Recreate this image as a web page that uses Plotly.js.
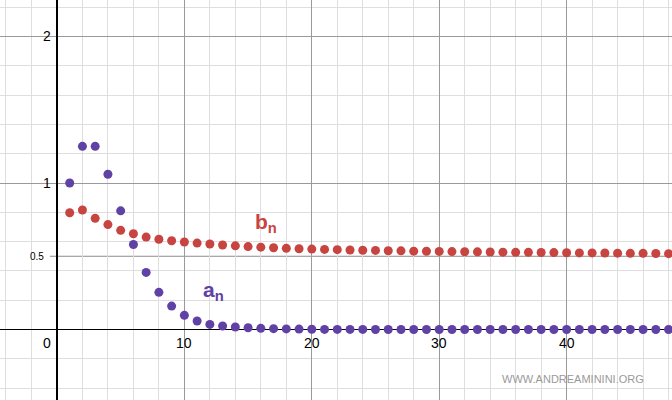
<!DOCTYPE html>
<html>
<head>
<meta charset="utf-8">
<script src="https://cdn.plot.ly/plotly-3.0.1.min.js"></script>
<style>
  html, body { margin: 0; padding: 0; background: #fff; }
  #chart { width: 672px; height: 400px; }
</style>
</head>
<body>
<div id="chart"></div>
<script>
// sequence indices
const n = Array.from({ length: 48 }, (_, i) => i + 1);

// a_n
const aValues = [
  1.00, 1.25, 1.25, 1.06, 0.81, 0.58, 0.39, 0.254, 0.16, 0.097,
  0.058, 0.035, 0.024, 0.017, 0.012, 0.008, 0.006, 0.004, 0.003, 0.002,
  0.001, 0.001, 0.001, 0.001, 0, 0, 0, 0, 0, 0,
  0, 0, 0, 0, 0, 0, 0, 0, 0, 0,
  0, 0, 0, 0, 0, 0, 0, 0
];

// b_n
const bValues = [
  0.797, 0.816, 0.759, 0.716, 0.677, 0.654, 0.631, 0.616, 0.606, 0.597,
  0.590, 0.584, 0.577, 0.571, 0.566, 0.562, 0.558, 0.554, 0.551, 0.549,
  0.547, 0.545, 0.543, 0.541, 0.540, 0.538, 0.537, 0.535, 0.534, 0.533,
  0.532, 0.531, 0.530, 0.529, 0.528, 0.527, 0.527, 0.526, 0.525, 0.524,
  0.523, 0.523, 0.522, 0.521, 0.520, 0.520, 0.519, 0.518
];

const bLimit = 0.5;
const xTicks = [10, 20, 30, 40];
const yTicks = [1, 2];

const purple = '#6042a6';
const red = '#c74440';
const font = 'Liberation Sans, Arial, sans-serif';

var data = [
  { x: n, y: bValues, mode: 'markers', type: 'scatter',
    marker: { color: red, size: 9 }, cliponaxis: false },
  { x: n, y: aValues, mode: 'markers', type: 'scatter',
    marker: { color: purple, size: 9 }, cliponaxis: false },
];

var annotations = [];
xTicks.forEach(t => annotations.push({
  x: t, y: 0, xref: 'x', yref: 'y', text: String(t), showarrow: false,
  xanchor: 'center', yanchor: 'top', yshift: -3,
  font: { family: font, size: 14, color: '#000' }
}));
yTicks.forEach(t => annotations.push({
  x: 0, y: t, xref: 'x', yref: 'y', text: String(t), showarrow: false,
  xanchor: 'right', yanchor: 'middle', xshift: -4,
  font: { family: font, size: 14, color: '#000' }
}));
// origin
annotations.push({
  x: 0, y: 0, xref: 'x', yref: 'y', text: '0', showarrow: false,
  xanchor: 'right', yanchor: 'top', xshift: -4, yshift: -3,
  font: { family: font, size: 14, color: '#000' }
});
// limit label
annotations.push({
  x: 0, y: bLimit, xref: 'x', yref: 'y', text: '0.5', showarrow: false,
  xanchor: 'right', yanchor: 'middle', xshift: -11,
  font: { family: font, size: 10, color: '#000' }
});
// series names
annotations.push({
  x: 16.4, y: 0.73, xref: 'x', yref: 'y', text: '<b>b<sub>n</sub></b>',
  showarrow: false, font: { family: font, size: 21, color: red }
});
annotations.push({
  x: 12.3, y: 0.26, xref: 'x', yref: 'y', text: '<b>a<sub>n</sub></b>',
  showarrow: false, font: { family: font, size: 21, color: purple }
});
// watermark
annotations.push({
  x: 646 / 672, y: 21 / 400, xref: 'paper', yref: 'paper',
  text: 'WWW.ANDREAMININI.ORG', showarrow: false,
  xanchor: 'right', yanchor: 'middle',
  font: { family: font, size: 11, color: '#9a9a9a' }
});

var layout = {
  autosize: false,
  width: 672,
  height: 400,
  hovermode: false,
  showlegend: false,
  margin: { l: 0, r: 0, b: 0, t: 0, pad: 0 },
  paper_bgcolor: '#fff',
  plot_bgcolor: '#fff',
  xaxis: {
    range: [-4.47, 48.27],
    dtick: 10, tick0: 0,
    showgrid: true, gridcolor: '#9a9a9a', gridwidth: 1,
    minor: { dtick: 2, tick0: 0, showgrid: true, gridcolor: '#dedede', gridwidth: 1 },
    zeroline: true, zerolinecolor: '#000', zerolinewidth: 1.6,
    showticklabels: false, ticks: '', showline: false, fixedrange: true,
  },
  yaxis: {
    range: [-0.481, 2.249],
    dtick: 1, tick0: 0,
    showgrid: true, gridcolor: '#9a9a9a', gridwidth: 1,
    minor: { dtick: 0.2, tick0: 0, showgrid: true, gridcolor: '#dedede', gridwidth: 1 },
    zeroline: true, zerolinecolor: '#000', zerolinewidth: 1.6,
    showticklabels: false, ticks: '', showline: false, fixedrange: true,
  },
  shapes: [{
    type: 'line', xref: 'x', yref: 'y', layer: 'below',
    x0: -0.55, x1: 60, y0: bLimit, y1: bLimit,
    line: { color: '#8c8c8c', width: 1 }
  }],
  annotations,
};

Plotly.newPlot('chart', data, layout, { displayModeBar: false, staticPlot: true });
</script>
</body>
</html>
